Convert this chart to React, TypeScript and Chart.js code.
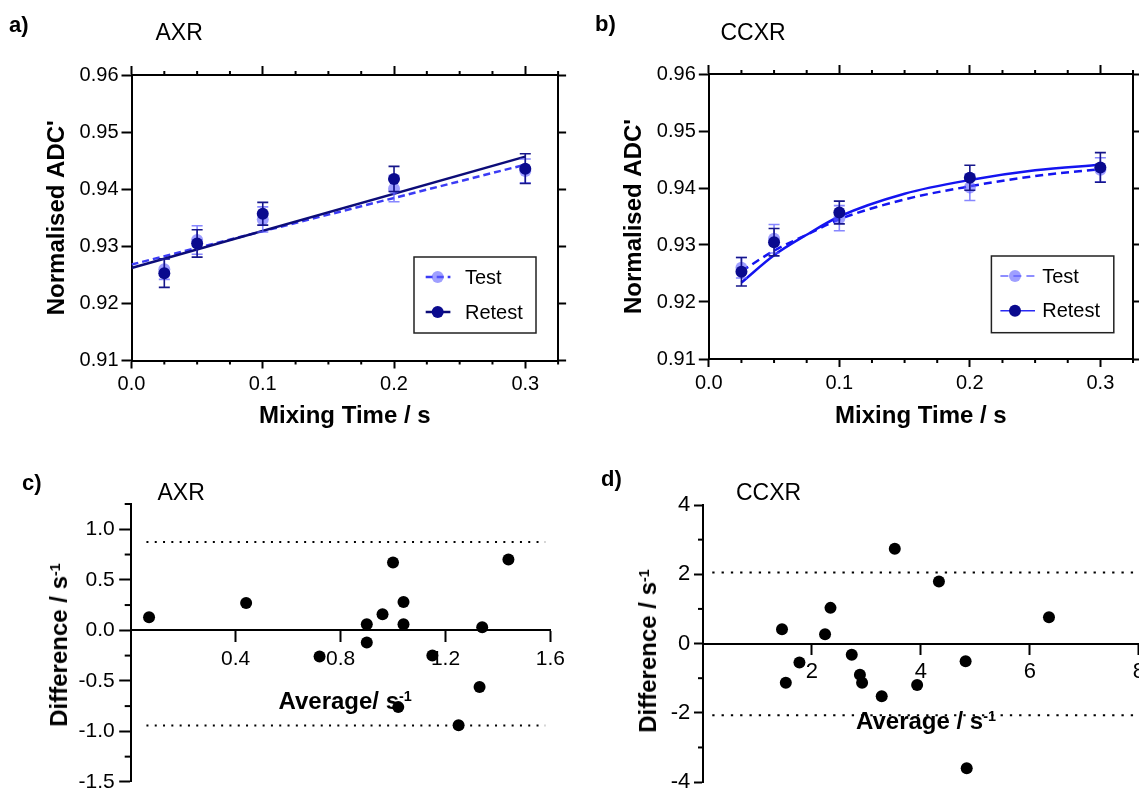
import React, { useEffect, useRef } from "react";
import { Chart, registerables } from "chart.js";

Chart.register(...registerables);
const FONT = "'Liberation Sans', Arial, Helvetica, sans-serif";
Chart.defaults.font.family = FONT;
Chart.defaults.color = "#000";

// ---------- Panels a & b : Normalised ADC' vs mixing time ----------
const mixingTimes = [0.025, 0.05, 0.1, 0.2, 0.3];
const testADC = [0.926, 0.9311, 0.9347, 0.9401, 0.9432];
const testErr = [0.0018, 0.0025, 0.0022, 0.0023, 0.0021];
const retestADC = [0.9253, 0.9305, 0.9357, 0.9418, 0.9436];
const retestErr = [0.0025, 0.0024, 0.002, 0.0022, 0.0026];

// a) AXR linear fits (read at the ends of the line)
const axrFitX = [0, 0.3];
const axrTestFit = [0.9268, 0.9443];
const axrRetestFit = [0.9262, 0.9457];

// b) CCXR fitted curves (read along the curve)
const ccxrFitX = [0.025, 0.05, 0.075, 0.1, 0.15, 0.2, 0.25, 0.3];
const ccxrTestFit = [0.9254, 0.929, 0.9318, 0.9345, 0.938, 0.9403, 0.9421, 0.9433];
const ccxrRetestFit = [0.9234, 0.9282, 0.9318, 0.935, 0.939, 0.9414, 0.9431, 0.9441];

const adcTicks = [0.91, 0.92, 0.93, 0.94, 0.95, 0.96];
const timeTicks = [0, 0.1, 0.2, 0.3];
const timeMinorTicks = [0.025, 0.05, 0.075, 0.125, 0.15, 0.175, 0.225, 0.25, 0.275, 0.325];
const legendLabels = ["Test", "Retest"];

// ---------- Panel c : AXR Bland-Altman ----------
const axrAverage = [0.07, 0.44, 0.72, 0.9, 0.9, 0.96, 1.0, 1.04, 1.04, 1.02, 1.15, 1.25, 1.33, 1.34, 1.44];
const axrDifference = [0.13, 0.27, -0.26, 0.06, -0.12, 0.16, 0.67, 0.28, 0.06, -0.76, -0.25, -0.94, -0.56, 0.03, 0.7];
const axrLimits = [0.873, -0.942];
const axrLimitSpan = [0.06, 1.58];
const axrXTicks = [0.4, 0.8, 1.2, 1.6];
const axrYTicks = [-1.5, -1.0, -0.5, 0, 0.5, 1.0];
const axrYMinor = [-1.25, -0.75, -0.25, 0.25, 0.75, 1.25];

// ---------- Panel d : CCXR Bland-Altman ----------
const ccxrAverage = [1.45, 1.52, 1.77, 2.24, 2.34, 2.73, 2.88, 2.92, 3.28, 3.52, 3.93, 4.33, 4.82, 4.84, 6.35];
const ccxrDifference = [0.41, -1.13, -0.55, 0.27, 1.03, -0.32, -0.9, -1.13, -1.52, 2.74, -1.2, 1.79, -0.51, -3.6, 0.76];
const ccxrLimits = [2.05, -2.07];
const ccxrLimitSpan = [0.17, 8.3];
const ccxrXTicks = [2, 4, 6, 8];
const ccxrYTicks = [-4, -2, 0, 2, 4];
const ccxrYMinor = [-3, -1, 1, 3];

// ---------- colours ----------
const TEST_PT = "rgba(95,95,255,0.6)";
const TEST_BAR = "rgba(95,95,255,0.75)";
const RETEST_PT = "#0a0a8e";
const RETEST_BAR = "#16168a";

type MinorItem = { scale: string; side: "top" | "bottom" | "left" | "right"; values: number[]; length: number };

function minorTicksPlugin(items: MinorItem[]) {
  return {
    id: "minorTicks",
    afterDraw(chart: any) {
      const ctx = chart.ctx;
      ctx.save();
      ctx.strokeStyle = "#000";
      ctx.lineWidth = 2;
      for (const it of items) {
        const s = chart.scales[it.scale];
        for (const v of it.values) {
          const p = s.getPixelForValue(v);
          ctx.beginPath();
          if (it.side === "bottom") {
            ctx.moveTo(p, s.top);
            ctx.lineTo(p, s.top + it.length);
          } else if (it.side === "top") {
            ctx.moveTo(p, s.bottom);
            ctx.lineTo(p, s.bottom - it.length);
          } else if (it.side === "left") {
            ctx.moveTo(s.right, p);
            ctx.lineTo(s.right - it.length, p);
          } else {
            ctx.moveTo(s.left, p);
            ctx.lineTo(s.left + it.length, p);
          }
          ctx.stroke();
        }
      }
      ctx.restore();
    },
  };
}

const errorBarPlugin = {
  id: "errorBars",
  beforeDatasetDraw(chart: any, args: any) {
    const ds: any = chart.data.datasets[args.index];
    if (!ds.errorBars) return;
    const xs = chart.scales[args.meta.xAxisID];
    const ys = chart.scales[args.meta.yAxisID];
    const ctx = chart.ctx;
    ctx.save();
    ctx.strokeStyle = ds.errorBarColor;
    ctx.lineWidth = 1.6;
    const hw = 5.5;
    ds.data.forEach((p: any, i: number) => {
      const e = ds.errorBars[i];
      const px = xs.getPixelForValue(p.x);
      const y1 = ys.getPixelForValue(p.y + e);
      const y2 = ys.getPixelForValue(p.y - e);
      ctx.beginPath();
      ctx.moveTo(px, y1);
      ctx.lineTo(px, y2);
      ctx.moveTo(px - hw, y1);
      ctx.lineTo(px + hw, y1);
      ctx.moveTo(px - hw, y2);
      ctx.lineTo(px + hw, y2);
      ctx.stroke();
    });
    ctx.restore();
  },
};

type LegendEntry = { label: string; marker: string; line: string; lineWidth: number; dash: number[] };
function legendPlugin(box: { x: number; y: number; w: number; h: number }, entries: LegendEntry[], rowY: number[], lineX: [number, number], markerX: number, textX: number) {
  return {
    id: "boxLegend",
    afterDraw(chart: any) {
      const ctx = chart.ctx;
      ctx.save();
      ctx.fillStyle = "#fff";
      ctx.fillRect(box.x, box.y, box.w, box.h);
      ctx.strokeStyle = "#222";
      ctx.lineWidth = 1.5;
      ctx.strokeRect(box.x, box.y, box.w, box.h);
      entries.forEach((en, i) => {
        const y = box.y + rowY[i];
        ctx.beginPath();
        ctx.setLineDash(en.dash);
        ctx.strokeStyle = en.line;
        ctx.lineWidth = en.lineWidth;
        ctx.moveTo(box.x + lineX[0], y);
        ctx.lineTo(box.x + lineX[1], y);
        ctx.stroke();
        ctx.setLineDash([]);
        ctx.beginPath();
        ctx.fillStyle = en.marker;
        ctx.arc(box.x + markerX, y, 6, 0, Math.PI * 2);
        ctx.fill();
        ctx.fillStyle = "#000";
        ctx.font = `20px ${FONT}`;
        ctx.textBaseline = "middle";
        ctx.textAlign = "left";
        ctx.fillText(en.label, box.x + textX, y + 1);
      });
      ctx.restore();
    },
  };
}

const pts = (xs: number[], ys: number[]) => xs.map((x, i) => ({ x, y: ys[i] }));
const setTicks = (vals: number[]) => (s: any) => {
  s.ticks = vals.map((v) => ({ value: v }));
};
const gridOpts = (len: number) => ({ drawOnChartArea: false, drawTicks: true, tickLength: len, tickWidth: 2, tickColor: "#000", color: "#000" });
const borderOpts = { display: true, width: 2, color: "#000" };

function makeADC(panel: "a" | "b") {
  const isA = panel === "a";
  const W = isA ? 570 : 569;
  const H = 440;
  const area = isA ? { left: 131.5, right: 558.1, top: 75, bottom: 360.5 } : { left: 138.8, right: 565.3, top: 74, bottom: 359 };
  const testFit = isA
    ? { data: pts(axrFitX, axrTestFit), borderColor: "#3b3bf5", borderDash: [7, 4], tension: 0 }
    : { data: pts(ccxrFitX, ccxrTestFit), borderColor: "#1414f0", borderDash: [8, 5], cubicInterpolationMode: "monotone" };
  const retestFit = isA
    ? { data: pts(axrFitX, axrRetestFit), borderColor: "#0c0c78", borderDash: [], tension: 0 }
    : { data: pts(ccxrFitX, ccxrRetestFit), borderColor: "#1414f0", borderDash: [], cubicInterpolationMode: "monotone" };
  const legendEntries: LegendEntry[] = isA
    ? [
        { label: legendLabels[0], marker: TEST_PT, line: "#3b3bf5", lineWidth: 2.5, dash: [7, 4] },
        { label: legendLabels[1], marker: RETEST_PT, line: "#0c0c78", lineWidth: 2.5, dash: [] },
      ]
    : [
        { label: legendLabels[0], marker: TEST_PT, line: "#6a6aff", lineWidth: 1.5, dash: [8, 5] },
        { label: legendLabels[1], marker: RETEST_PT, line: "#2a2af5", lineWidth: 1.5, dash: [] },
      ];
  const legend = isA
    ? legendPlugin({ x: 414, y: 257, w: 122, h: 76 }, legendEntries, [20, 55], [11.7, 36.4], 23.7, 51)
    : legendPlugin({ x: 421.4, y: 256, w: 122.4, h: 76.7 }, legendEntries, [20, 54.7], [9, 43.6], 23.6, 50.8);
  return {
    type: "scatter" as const,
    data: {
      datasets: [
        { ...testFit, showLine: true, borderWidth: 2.5, pointRadius: 0, order: 3 },
        { ...retestFit, showLine: true, borderWidth: 2.5, pointRadius: 0, order: 2 },
        {
          data: pts(mixingTimes, testADC),
          backgroundColor: TEST_PT,
          borderWidth: 0,
          pointRadius: 6,
          order: 1,
          errorBars: testErr,
          errorBarColor: TEST_BAR,
        },
        {
          data: pts(mixingTimes, retestADC),
          backgroundColor: RETEST_PT,
          borderWidth: 0,
          pointRadius: 6,
          order: 0,
          errorBars: retestErr,
          errorBarColor: RETEST_BAR,
        },
      ],
    },
    options: {
      responsive: false,
      animation: false,
      devicePixelRatio: 1,
      events: [],
      layout: { padding: 0 },
      plugins: { legend: { display: false }, tooltip: { enabled: false } },
      scales: {
        x: {
          type: "linear",
          position: "bottom",
          min: 0,
          max: 0.325,
          grid: gridOpts(8),
          border: borderOpts,
          ticks: { font: { size: 20 }, padding: 4, autoSkip: false, maxRotation: 0, callback: (v: any) => Number(v).toFixed(1) },
          afterBuildTicks: setTicks(timeTicks),
          afterFit: (s: any) => {
            s.height = H - area.bottom;
          },
          title: { display: true, text: "Mixing Time / s", font: { size: 24, weight: "bold" }, padding: { top: 0, bottom: 9 } },
        },
        x2: {
          type: "linear",
          position: "top",
          min: 0,
          max: 0.325,
          grid: gridOpts(9),
          border: borderOpts,
          ticks: { display: false },
          afterBuildTicks: setTicks(timeTicks),
          afterFit: (s: any) => {
            s.height = area.top;
          },
        },
        y: {
          type: "linear",
          position: "left",
          min: 0.91,
          max: 0.96,
          grid: gridOpts(10),
          border: borderOpts,
          ticks: { font: { size: 20 }, padding: 3, autoSkip: false, callback: (v: any) => Number(v).toFixed(2) },
          afterBuildTicks: setTicks(adcTicks),
          afterFit: (s: any) => {
            s.width = area.left;
          },
          title: { display: true, text: "Normalised ADC'", font: { size: 24, weight: "bold" }, padding: { top: isA ? 43 : 50, bottom: 0 } },
        },
        y2: {
          type: "linear",
          position: "right",
          min: 0.91,
          max: 0.96,
          grid: gridOpts(8),
          border: borderOpts,
          ticks: { display: false },
          afterBuildTicks: setTicks(adcTicks),
          afterFit: (s: any) => {
            s.width = W - area.right;
          },
        },
      },
    },
    plugins: [
      errorBarPlugin,
      minorTicksPlugin([
        { scale: "x", side: "bottom", values: timeMinorTicks, length: 4 },
        { scale: "x2", side: "top", values: timeMinorTicks, length: 4 },
      ]),
      legend,
    ],
  };
}

function makeBA(panel: "c" | "d") {
  const isC = panel === "c";
  const W = isC ? 570 : 580;
  const H = 359;
  const avg = isC ? axrAverage : ccxrAverage;
  const diff = isC ? axrDifference : ccxrDifference;
  const limits = isC ? axrLimits : ccxrLimits;
  const span = isC ? axrLimitSpan : ccxrLimitSpan;
  const xTicks = isC ? axrXTicks : ccxrXTicks;
  const yTicks = isC ? axrYTicks : ccxrYTicks;
  const yMinor = isC ? axrYMinor : ccxrYMinor;
  const area = isC ? { left: 130.7, right: 553, top: 64, bottom: 344 } : { left: 133, right: 571, top: 65, bottom: 353.5 };
  const fontSize = isC ? 21 : 22;
  const fmt = (v: any) => (isC ? Number(v).toFixed(1) : String(v));
  return {
    type: "scatter" as const,
    data: {
      datasets: [
        ...limits.map((lim) => ({
          data: span.map((x) => ({ x, y: lim })),
          showLine: true,
          borderColor: "#000",
          borderWidth: 2,
          borderDash: isC ? [2, 6.3] : [2.3, 7],
          pointRadius: 0,
          order: 2,
        })),
        {
          data: pts(avg, diff),
          backgroundColor: "#000",
          borderWidth: 0,
          pointRadius: 6,
          order: 0,
        },
      ],
    },
    options: {
      responsive: false,
      animation: false,
      devicePixelRatio: 1,
      events: [],
      layout: { padding: { left: 0, top: area.top, right: W - area.right, bottom: H - area.bottom } },
      plugins: { legend: { display: false }, tooltip: { enabled: false } },
      scales: {
        x: {
          type: "linear",
          position: { y: 0 },
          min: 0,
          max: isC ? 1.6 : 8,
          grid: gridOpts(isC ? 11 : 10),
          border: borderOpts,
          ticks: { font: { size: fontSize }, padding: 5, autoSkip: false, maxRotation: 0, callback: fmt },
          afterBuildTicks: setTicks(xTicks),
          afterFit: (s: any) => {
            s.height = 0;
          },
        },
        y: {
          type: "linear",
          position: "left",
          min: isC ? -1.5 : -4,
          max: isC ? 1.25 : 4,
          grid: gridOpts(isC ? 11.5 : 9),
          border: borderOpts,
          ticks: { font: { size: fontSize }, padding: isC ? 4.5 : 3.7, autoSkip: false, callback: fmt },
          afterBuildTicks: setTicks(yTicks),
          afterFit: (s: any) => {
            s.width = area.left;
          },
        },
      },
    },
    plugins: [minorTicksPlugin([{ scale: "y", side: "left", values: yMinor, length: isC ? 6 : 5 }])],
  };
}

function ChartCanvas(props: { left: number; top: number; width: number; height: number; make: () => any }) {
  const ref = useRef<HTMLCanvasElement | null>(null);
  const { left, top, width, height, make } = props;
  useEffect(() => {
    if (!ref.current) return;
    const chart = new Chart(ref.current, make());
    return () => chart.destroy();
  }, [make]);
  return <canvas ref={ref} width={width} height={height} style={{ position: "absolute", left, top, width, height }} />;
}

function Txt(props: { x: number; base: number; size: number; bold?: boolean; children: any }) {
  const { x, base, size, bold, children } = props;
  return (
    <div
      style={{
        position: "absolute",
        left: x,
        top: base - 0.8465 * size,
        fontSize: size,
        fontWeight: bold ? 700 : 400,
        lineHeight: 1,
        whiteSpace: "nowrap",
        fontFamily: FONT,
        color: "#000",
      }}
    >
      {children}
    </div>
  );
}

function RotTxt(props: { cx: number; cy: number; size: number; children: any }) {
  const { cx, cy, size, children } = props;
  return (
    <div
      style={{
        position: "absolute",
        left: cx,
        top: cy,
        fontSize: size,
        fontWeight: 700,
        lineHeight: 1,
        whiteSpace: "nowrap",
        fontFamily: FONT,
        color: "#000",
        transform: "translate(-50%, -50%) rotate(-90deg)",
      }}
    >
      {children}
    </div>
  );
}

const Sup = () => <span style={{ fontSize: "0.6em", position: "relative", top: "-0.5em" }}>-1</span>;

const makeA = () => makeADC("a");
const makeB = () => makeADC("b");
const makeC = () => makeBA("c");
const makeD = () => makeBA("d");

export default function App() {
  return (
    <div style={{ position: "absolute", left: 0, top: 0, width: 1139, height: 799, overflow: "hidden", background: "#fff" }}>
      <ChartCanvas left={0} top={0} width={570} height={440} make={makeA} />
      <ChartCanvas left={570} top={0} width={569} height={440} make={makeB} />
      <ChartCanvas left={0} top={440} width={570} height={359} make={makeC} />
      <ChartCanvas left={570} top={440} width={580} height={359} make={makeD} />

      <Txt x={9} base={33} size={22} bold>a)</Txt>
      <Txt x={155.5} base={40} size={23}>AXR</Txt>
      <Txt x={595} base={32} size={22} bold>b)</Txt>
      <Txt x={720.5} base={40} size={23}>CCXR</Txt>
      <Txt x={22} base={491} size={22} bold>c)</Txt>
      <Txt x={157.5} base={500} size={23}>AXR</Txt>
      <Txt x={601} base={487} size={22} bold>d)</Txt>
      <Txt x={736} base={500} size={23}>CCXR</Txt>

      <Txt x={278.5} base={709} size={24} bold>
        Average/ s<Sup />
      </Txt>
      <Txt x={856} base={729} size={24} bold>
        Average / s<Sup />
      </Txt>
      <RotTxt cx={59} cy={645} size={24}>
        Difference / s<Sup />
      </RotTxt>
      <RotTxt cx={648} cy={651} size={24}>
        Difference / s<Sup />
      </RotTxt>
    </div>
  );
}
